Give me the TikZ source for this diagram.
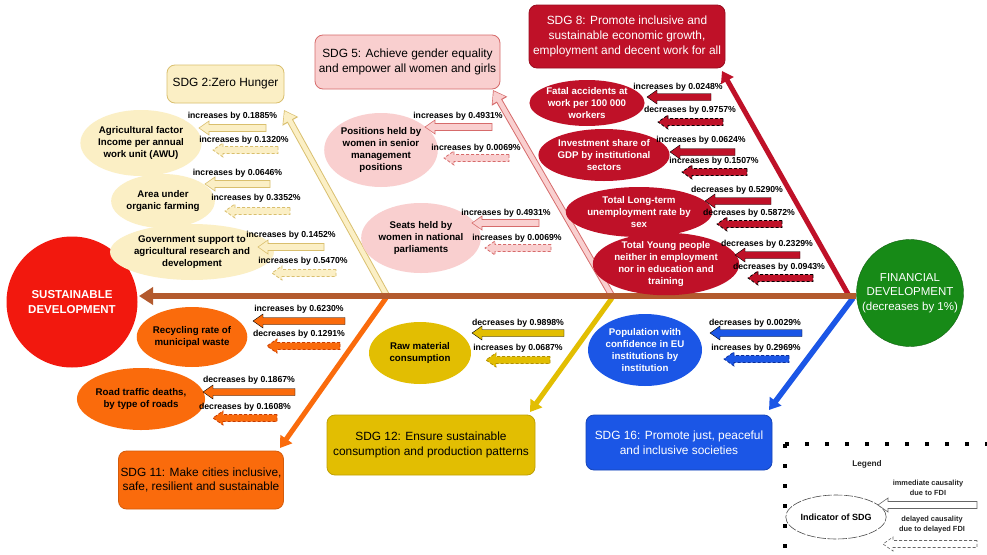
\documentclass[tikz,border=0pt]{standalone}
\usepackage{fontspec}
\setmainfont{Liberation Sans}
\usetikzlibrary{shapes.geometric,arrows.meta}
\definecolor{yfill}{HTML}{FBEFC5}
\definecolor{yborder}{HTML}{D9BF6E}
\definecolor{pfill}{HTML}{F9CFCF}
\definecolor{pborder}{HTML}{D66B6B}
\definecolor{dred}{HTML}{BF1128}
\definecolor{orng}{HTML}{FA6B0C}
\definecolor{orngdark}{HTML}{C83C00}
\definecolor{gold}{HTML}{E2BE02}
\definecolor{golddark}{HTML}{B08F00}
\definecolor{blu}{HTML}{1B56E6}
\definecolor{bludark}{HTML}{0A2E9A}
\definecolor{grn}{HTML}{178A17}
\definecolor{sred}{HTML}{F2180E}
\definecolor{brwn}{HTML}{B35A2E}
\newcommand\myblockarrow[4]{%
  \draw[#1] (#2,#4-3.5) -- (#3+10,#4-3.5) -- (#3+10,#4-7) -- (#3,#4) -- (#3+10,#4+7) -- (#3+10,#4+3.5) -- (#2,#4+3.5) -- cycle;}
\tikzset{
  lbl/.style={font=\bfseries\fontsize{8.7}{10}\selectfont, inner sep=0pt},
  ind/.style={ellipse, inner sep=0pt, align=center, font=\bfseries\fontsize{9.7}{11.7}\selectfont},
  sdgbox/.style={rounded corners=8pt, align=center, inner sep=2pt, font=\fontsize{11.9}{14.8}\selectfont, line width=0.8pt},
  bone/.style={line width=5pt, -{Triangle[length=11pt,width=14pt]}},
}
\begin{document}
\begin{tikzpicture}[x=1pt,y=-1pt]
\useasboundingbox (0,0) rectangle (987,554);
\fill[white] (0,0) rectangle (987,554);

% main circles
\node[circle, fill=sred, minimum size=131pt, inner sep=0pt, text=white, align=center,
  font=\bfseries\fontsize{11.5}{15}\selectfont] (sd) at (72,302) {SUSTAINABLE\\DEVELOPMENT};
\node[circle, fill=grn, draw=grn!70!black, minimum size=107pt, inner sep=0pt, text=white, align=center,
  font=\fontsize{11.5}{14.5}\selectfont] (fin) at (910,293) {FINANCIAL\\DEVELOPMENT\\(decreases by 1\%)};

% boxes
\node[sdgbox, fill=yfill, draw=yborder, minimum width=117pt, minimum height=38pt] (b2) at (225.5,84) {SDG 2:Zero Hunger};
\node[sdgbox, fill=pfill, draw=pborder, minimum width=185pt, minimum height=54pt] (b5) at (407.5,62) {SDG 5: Achieve gender equality\\and empower all women and girls};
\node[sdgbox, fill=dred, draw=dred!80!black, text=white, minimum width=196pt, minimum height=63pt] (b8) at (627,36.5) {SDG 8: Promote inclusive and\\sustainable economic growth,\\employment and decent work for all};
\node[sdgbox, fill=orng, draw=orng!85!black, minimum width=164pt, minimum height=58pt] (b11) at (201,480) {SDG 11: Make cities inclusive,\\safe, resilient and sustainable};
\node[sdgbox, fill=gold, draw=gold!85!black, minimum width=208pt, minimum height=60pt] (b12) at (431,445) {SDG 12: Ensure sustainable\\consumption and production patterns};
\node[sdgbox, fill=blu, draw=blu!80!black, text=white, minimum width=186pt, minimum height=55pt] (b16) at (679,442.5) {SDG 16: Promote just, peaceful\\and inclusive societies};

% spine and bones
\coordinate (spR) at (856,296);
\coordinate (spL) at (139,296);
\coordinate (j2) at (387,296);
\coordinate (j5) at (612,296);
\coordinate (j8) at (848,294);
\coordinate (j11) at (386,298);
\coordinate (j12) at (612,298);
\coordinate (j16) at (853,298);
\coordinate (t2) at (284,110);
\coordinate (t5) at (493,90);
\coordinate (t8) at (722,71);
\coordinate (t11) at (280,448);
\coordinate (t12) at (530,412);
\coordinate (t16) at (769,410);

\draw[line width=6.5pt, yborder, -{Triangle[length=13pt,width=17pt]}] (j2) -- (t2);
\draw[line width=4.6pt, yfill, shorten >=1.3pt, -{Triangle[length=10.5pt,width=14pt]}] (j2) -- (t2);
\draw[line width=6.5pt, pborder, -{Triangle[length=13pt,width=17pt]}] (j5) -- (t5);
\draw[line width=4.6pt, pfill, shorten >=1.3pt, -{Triangle[length=10.5pt,width=14pt]}] (j5) -- (t5);
\draw[bone, dred] (j8) -- (t8);
\draw[bone, orng] (j11) -- (t11);
\draw[bone, gold] (j12) -- (t12);
\draw[bone, blu, line width=5.5pt] (j16) -- (t16);
\draw[line width=6.5pt, brwn, -{Triangle[length=14pt,width=17pt]}] (spR) -- (spL);

% SDG 2 indicators
\node[ind, fill=yfill, minimum width=104pt, minimum height=66pt] (i21) at (141,143) {Agricultural factor\\Income per annual\\work unit (AWU)};
\node[ind, fill=yfill, minimum width=77pt, minimum height=54pt] (i22) at (163,201) {Area under\\organic farming};
\node[ind, fill=yfill, minimum width=121pt, minimum height=56pt] (i23) at (192,252) {Government support to\\agricultural research and\\development};
\node[lbl] (l21) at (232.5,116) {increases by 0.1885\%};
\myblockarrow{fill=yfill, draw=yborder, line width=0.6pt}{266}{199}{128}
\node[lbl] (l22) at (244,140) {increases by 0.1320\%};
\myblockarrow{fill=yfill, draw=yborder, line width=0.8pt, dash pattern=on 3pt off 2pt}{278}{213}{150}
\node[lbl] (l23) at (237.5,173) {increases by 0.0646\%};
\myblockarrow{fill=yfill, draw=yborder, line width=0.6pt}{270}{205}{184}
\node[lbl] (l24) at (256,198) {increases by 0.3352\%};
\myblockarrow{fill=yfill, draw=yborder, line width=0.8pt, dash pattern=on 3pt off 2pt}{290}{225}{211}
\node[lbl] (l25) at (291,235) {increases by 0.1452\%};
\myblockarrow{fill=yfill, draw=yborder, line width=0.6pt}{324}{258}{247}
\node[lbl] (l26) at (303,261) {increases by 0.5470\%};
\myblockarrow{fill=yfill, draw=yborder, line width=0.8pt, dash pattern=on 3pt off 2pt}{336}{272}{273}

% SDG 5 indicators
\node[ind, fill=pfill, minimum width=98pt, minimum height=74pt] (i51) at (381,150) {Positions held by\\women in senior\\management\\positions};
\node[ind, fill=pfill, minimum width=92pt, minimum height=70pt] (i52) at (421,238) {Seats held by\\women in national\\parliaments};
\node[lbl] (l51) at (458,116) {increases by 0.4931\%};
\myblockarrow{fill=pfill, draw=pborder, line width=0.6pt}{492}{425}{127}
\node[lbl] (l52) at (476,148) {increases by 0.0069\%};
\myblockarrow{fill=pfill, draw=pborder, line width=0.8pt, dash pattern=on 3pt off 2pt}{509}{444}{158}
\node[lbl] (l53) at (506,213) {increases by 0.4931\%};
\myblockarrow{fill=pfill, draw=pborder, line width=0.6pt}{539}{472}{223}
\node[lbl] (l54) at (517,238) {increases by 0.0069\%};
\myblockarrow{fill=pfill, draw=pborder, line width=0.8pt, dash pattern=on 3pt off 2pt}{551}{485}{248}

% SDG 8 indicators
\node[ind, fill=dred, text=white, minimum width=102pt, minimum height=46pt] (i81) at (587,103) {Fatal accidents at\\work per 100 000\\workers};
\node[ind, fill=dred, text=white, minimum width=108pt, minimum height=52pt] (i82) at (604,155) {Investment share of\\GDP by institutional\\sectors};
\node[ind, fill=dred, text=white, minimum width=112pt, minimum height=50pt] (i83) at (639,212) {Total Long-term\\unemployment rate by\\sex};
\node[ind, fill=dred, text=white, minimum width=118pt, minimum height=58pt] (i84) at (666,264) {Total Young people\\neither in employment\\nor in education and\\training};
\node[lbl] (l81) at (678,87) {increases by 0.0248\%};
\myblockarrow{fill=dred}{711}{647}{97}
\node[lbl] (l82) at (690,110) {decreases by 0.9757\%};
\myblockarrow{fill=dred, draw=black, line width=0.8pt, dash pattern=on 3pt off 2pt}{723}{658}{122}
\node[lbl] (l83) at (701,140) {increases by 0.0624\%};
\myblockarrow{fill=dred}{735}{670}{152}
\node[lbl] (l84) at (714,161) {increases by 0.1507\%};
\myblockarrow{fill=dred, draw=black, line width=0.8pt, dash pattern=on 3pt off 2pt}{747}{682}{172}
\node[lbl] (l85) at (737,190) {decreases by 0.5290\%};
\myblockarrow{fill=dred}{771}{705}{201}
\node[lbl] (l86) at (749,213) {decreases by 0.5872\%};
\myblockarrow{fill=dred, draw=black, line width=0.8pt, dash pattern=on 3pt off 2pt}{782}{717}{224}
\node[lbl] (l87) at (767,244) {decreases by 0.2329\%};
\myblockarrow{fill=dred}{800}{735}{255}
\node[lbl] (l88) at (779,267) {decreases by 0.0943\%};
\myblockarrow{fill=dred, draw=black, line width=0.8pt, dash pattern=on 3pt off 2pt}{813}{748}{278}

% SDG 11 indicators
\node[ind, fill=orng, minimum width=102pt, minimum height=60pt] (i111) at (192,337) {Recycling rate of\\municipal waste};
\node[ind, fill=orng, minimum width=102pt, minimum height=62pt] (i112) at (141,399) {Road traffic deaths,\\by type of roads};
\node[lbl] (l111) at (299,309) {increases by 0.6230\%};
\myblockarrow{fill=orng}{345}{253}{321}
\node[lbl] (l112) at (299,334) {decreases by 0.1291\%};
\myblockarrow{fill=orng, draw=orngdark, line width=0.8pt, dash pattern=on 3pt off 2pt}{340}{267}{346}
\node[lbl] (l113) at (249,380) {decreases by 0.1867\%};
\myblockarrow{fill=orng}{295}{203}{392}
\node[lbl] (l114) at (245,407) {decreases by 0.1608\%};
\myblockarrow{fill=orng, draw=orngdark, line width=0.8pt, dash pattern=on 3pt off 2pt}{277}{213}{418}

% SDG 12 indicators
\node[ind, fill=gold, minimum width=102pt, minimum height=62pt] (i121) at (420,353) {Raw material\\consumption};
\node[lbl] (l121) at (518,323) {decreases by 0.9898\%};
\myblockarrow{fill=gold}{564}{472}{333}
\node[lbl] (l122) at (518,348) {increases by 0.0687\%};
\myblockarrow{fill=gold, draw=golddark, line width=0.8pt, dash pattern=on 3pt off 2pt}{550}{486}{360}

% SDG 16 indicators
\node[ind, fill=blu, text=white, minimum width=114pt, minimum height=72pt] (i161) at (645,350) {Population with\\confidence in EU\\institutions by\\institution};
\node[lbl] (l161) at (755,323) {decreases by 0.0029\%};
\myblockarrow{fill=blu}{802}{710}{333}
\node[lbl] (l162) at (756,348) {increases by 0.2969\%};
\myblockarrow{fill=blu, draw=bludark, line width=0.8pt, dash pattern=on 3pt off 2pt}{789}{724}{359}

% legend
\draw[line width=3.5pt, dash pattern=on 3.5pt off 16.5pt] (785,444) -- (990,444);
\draw[line width=3.5pt, dash pattern=on 3.5pt off 16.5pt] (785,444) -- (785,560);
\node[font=\bfseries\fontsize{8.3}{10}\selectfont, text=black!85] (leg) at (867,464) {Legend};
\node[ellipse, draw=black!70, line width=0.6pt, dash pattern=on 9pt off 1.5pt, minimum width=80pt, minimum height=44pt, inner sep=0pt,
  font=\bfseries\fontsize{9}{10}\selectfont] (li) at (836,517) {Indicator of SDG};
\node[align=center, font=\bfseries\fontsize{7.4}{10}\selectfont, text=black!85] (lt1) at (928,488) {immediate causality\\due to FDI};
\myblockarrow{fill=white, draw=black!60, line width=0.6pt}{977}{878}{505}
\node[align=center, font=\bfseries\fontsize{7.4}{10}\selectfont, text=black!85] (lt2) at (932,525) {delayed causality\\due to delayed FDI};
\myblockarrow{fill=white, draw=black!60, line width=0.6pt, dash pattern=on 3pt off 2pt}{977}{883}{544}
\end{tikzpicture}
\end{document}
